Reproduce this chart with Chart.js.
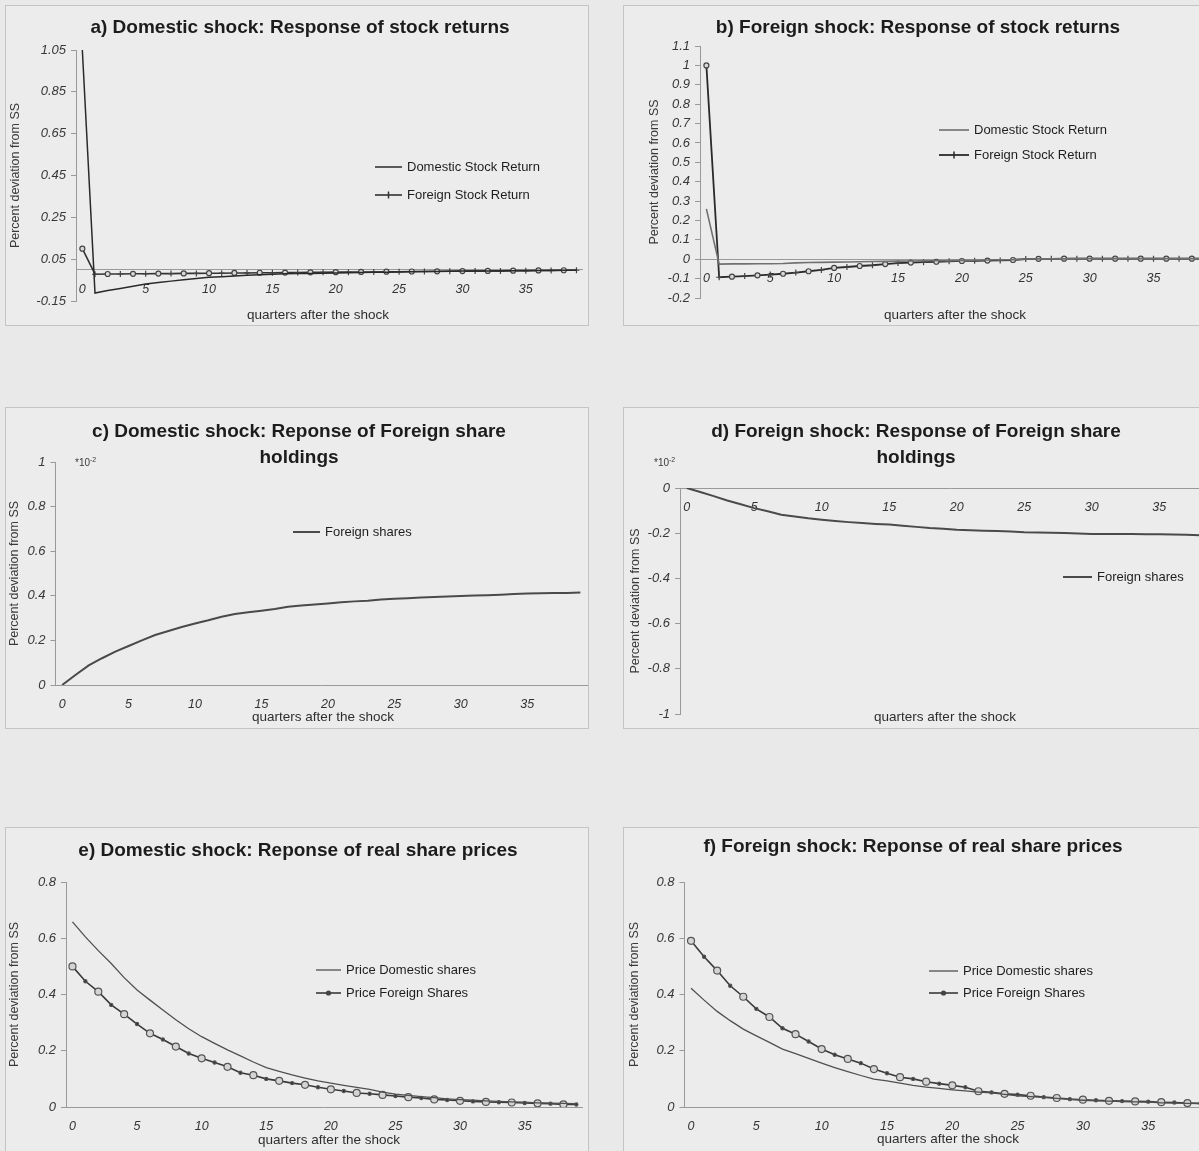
<!DOCTYPE html>
<html>
<head>
<meta charset="utf-8">
<script src="https://cdn.jsdelivr.net/npm/chart.js@4.4.1/dist/chart.umd.min.js"></script>
<style>
  html, body { margin: 0; padding: 0; background: #e9e9e9; }
  body { position: relative; width: 1199px; height: 1151px; overflow: hidden; }
  .panel { position: absolute; box-sizing: border-box; border: 1px solid #c4c4c4; background: #ececec; overflow: hidden; }
  .panel canvas { position: absolute; left: 0; top: 0; }
</style>
</head>
<body>
<div class="panel" id="pa"><canvas id="ga"></canvas></div>
<div class="panel" id="pb"><canvas id="gb"></canvas></div>
<div class="panel" id="pc"><canvas id="gc"></canvas></div>
<div class="panel" id="pd"><canvas id="gd"></canvas></div>
<div class="panel" id="pe"><canvas id="ge"></canvas></div>
<div class="panel" id="pf"><canvas id="gf"></canvas></div>
<script>
// trimestres despues del shock (categorias)
const TRIMESTRES = [0, 1, 2, 3, 4, 5, 6, 7, 8, 9, 10, 11, 12, 13, 14, 15, 16, 17, 18, 19,
  20, 21, 22, 23, 24, 25, 26, 27, 28, 29, 30, 31, 32, 33, 34, 35, 36, 37, 38, 39];
const TICKS_X = [0, 5, 10, 15, 20, 25, 30, 35];

const TICKS_A = [-0.15, 0.05, 0.25, 0.45, 0.65, 0.85, 1.05];
const TICKS_B = [-0.2, -0.1, 0, 0.1, 0.2, 0.3, 0.4, 0.5, 0.6, 0.7, 0.8, 0.9, 1, 1.1];
const TICKS_C = [0, 0.2, 0.4, 0.6, 0.8, 1];
const TICKS_D = [-1, -0.8, -0.6, -0.4, -0.2, 0];
const TICKS_EF = [0, 0.2, 0.4, 0.6, 0.8];

const EJE_X = "quarters after the shock";
const EJE_Y = "Percent deviation from SS";

// a) shock domestico: retornos
const A_DOM = [1.05, -0.112, -0.1, -0.09, -0.079, -0.069, -0.062, -0.055, -0.048, -0.042,
  -0.037, -0.034, -0.03, -0.027, -0.024, -0.022, -0.02, -0.019, -0.018, -0.017,
  -0.016, -0.015, -0.014, -0.013, -0.012, -0.011, -0.01, -0.009, -0.009, -0.008,
  -0.007, -0.007, -0.006, -0.006, -0.005, -0.005, -0.004, -0.004, -0.003, -0.003];
const A_FOR = [0.1, -0.022, -0.021, -0.021, -0.02, -0.02, -0.019, -0.019, -0.018, -0.018,
  -0.017, -0.017, -0.016, -0.016, -0.015, -0.015, -0.014, -0.014, -0.013, -0.013,
  -0.012, -0.012, -0.011, -0.011, -0.01, -0.01, -0.009, -0.009, -0.008, -0.008,
  -0.007, -0.007, -0.006, -0.006, -0.005, -0.005, -0.004, -0.004, -0.003, -0.003];

// b) shock extranjero: retornos
const B_DOM = [0.26, -0.025, -0.024, -0.024, -0.023, -0.023, -0.022, -0.019, -0.017, -0.016,
  -0.015, -0.014, -0.013, -0.012, -0.011, -0.01, -0.009, -0.008, -0.008, -0.007,
  -0.006, -0.005, -0.004, -0.003, -0.002, 0.001, 0.002, 0.002, 0.002, 0.003,
  0.003, 0.003, 0.003, 0.003, 0.003, 0.003, 0.003, 0.003, 0.003, 0.003];
const B_FOR = [1.0, -0.093, -0.09, -0.087, -0.083, -0.079, -0.075, -0.069, -0.062, -0.055,
  -0.045, -0.04, -0.035, -0.031, -0.025, -0.02, -0.017, -0.015, -0.013, -0.011,
  -0.009, -0.008, -0.007, -0.006, -0.004, 0.001, 0.002, 0.002, 0.003, 0.003,
  0.003, 0.003, 0.003, 0.003, 0.003, 0.003, 0.003, 0.003, 0.003, 0.003];

// c) y d) tenencias de acciones extranjeras (*10^-2)
const C_FOR = [0, 0.045, 0.088, 0.12, 0.15, 0.175, 0.2, 0.224, 0.242, 0.26,
  0.276, 0.29, 0.306, 0.318, 0.326, 0.333, 0.341, 0.351, 0.356, 0.361,
  0.366, 0.371, 0.375, 0.378, 0.383, 0.387, 0.389, 0.392, 0.395, 0.397,
  0.399, 0.401, 0.403, 0.405, 0.408, 0.41, 0.411, 0.412, 0.413, 0.415];
const D_FOR = [0, -0.018, -0.036, -0.055, -0.072, -0.089, -0.103, -0.118, -0.126, -0.134,
  -0.14, -0.146, -0.151, -0.155, -0.159, -0.162, -0.167, -0.172, -0.177, -0.18,
  -0.185, -0.187, -0.189, -0.19, -0.193, -0.196, -0.197, -0.198, -0.199, -0.201,
  -0.204, -0.204, -0.204, -0.204, -0.205, -0.205, -0.206, -0.207, -0.209, -0.21];

// e) y f) precios reales de las acciones
const E_DOM = [0.658, 0.605, 0.556, 0.51, 0.46, 0.416, 0.38, 0.345, 0.31, 0.278,
  0.25, 0.226, 0.203, 0.182, 0.16, 0.14, 0.127, 0.114, 0.103, 0.093,
  0.085, 0.077, 0.07, 0.063, 0.053, 0.046, 0.041, 0.037, 0.033, 0.029,
  0.026, 0.024, 0.022, 0.02, 0.018, 0.017, 0.015, 0.014, 0.013, 0.012];
const E_FOR = [0.5, 0.447, 0.41, 0.363, 0.33, 0.295, 0.262, 0.24, 0.215, 0.19,
  0.173, 0.158, 0.143, 0.122, 0.113, 0.1, 0.093, 0.085, 0.079, 0.07,
  0.063, 0.057, 0.05, 0.047, 0.043, 0.039, 0.035, 0.032, 0.027, 0.025,
  0.022, 0.02, 0.018, 0.017, 0.016, 0.014, 0.013, 0.012, 0.009, 0.009];
const F_DOM = [0.422, 0.38, 0.34, 0.307, 0.277, 0.253, 0.23, 0.206, 0.19, 0.173,
  0.156, 0.14, 0.126, 0.112, 0.099, 0.093, 0.085, 0.077, 0.071, 0.066,
  0.061, 0.057, 0.053, 0.05, 0.045, 0.04, 0.037, 0.034, 0.031, 0.027,
  0.024, 0.022, 0.021, 0.019, 0.018, 0.017, 0.015, 0.014, 0.013, 0.012];
const F_FOR = [0.591, 0.534, 0.485, 0.431, 0.392, 0.349, 0.32, 0.28, 0.259, 0.233,
  0.206, 0.186, 0.171, 0.156, 0.135, 0.12, 0.106, 0.1, 0.09, 0.083,
  0.077, 0.07, 0.056, 0.052, 0.047, 0.044, 0.04, 0.035, 0.032, 0.028,
  0.026, 0.024, 0.022, 0.021, 0.02, 0.019, 0.017, 0.016, 0.014, 0.013];

const FUENTE = '"Liberation Sans", Arial, sans-serif';

// marcadores estilo Excel escaneado
const marcaCruz = {
  pointStyle: (c) => (c.dataIndex % 2 === 0 ? "circle" : "cross"),
  pointRadius: (c) => (c.dataIndex % 2 === 0 ? 2.5 : 3),
  pointBorderWidth: 1.2,
  pointBackgroundColor: "#d8d8d8",
  pointBorderColor: "#444",
};
const marcaCirculo = {
  pointStyle: "circle",
  pointRadius: (c) => (c.dataIndex % 2 === 0 ? 3.5 : 1.6),
  pointBorderWidth: 1.2,
  pointBackgroundColor: (c) => (c.dataIndex % 2 === 0 ? "#d4d4d4" : "#333"),
  pointBorderColor: "#555",
};

function linea(label, data, color, ancho, extra, marca) {
  return Object.assign({
    label: label,
    data: data,
    borderColor: color,
    borderWidth: ancho,
    pointRadius: 0,
    tension: 0,
    fill: false,
    marcaLeyenda: marca || null,
  }, extra || {});
}

// titulos, rotulo del eje x, nota de escala y leyenda
const pluginTextos = {
  id: "textos",
  afterDraw(chart, args, o) {
    const ctx = chart.ctx;
    const ox = o.origen[0], oy = o.origen[1];
    ctx.save();
    ctx.textAlign = "center";
    ctx.textBaseline = "middle";
    ctx.fillStyle = "#1c1c1c";
    ctx.font = "bold 19px " + FUENTE;
    o.titulo.forEach((t, i) => ctx.fillText(t, o.tituloX - ox, o.tituloY - oy + i * 26));

    ctx.fillStyle = "#2e2e2e";
    ctx.font = "13.5px " + FUENTE;
    ctx.fillText(EJE_X, o.rotulo[0] - ox, o.rotulo[1] - oy);

    if (o.nota) {
      ctx.textAlign = "left";
      ctx.fillStyle = "#3a3a3a";
      ctx.font = "10px " + FUENTE;
      const nx = o.nota[0] - ox, ny = o.nota[1] - oy;
      ctx.fillText("*10", nx, ny);
      const w = ctx.measureText("*10").width;
      ctx.font = "7px " + FUENTE;
      ctx.fillText("-2", nx + w, ny - 3);
    }

    const ley = o.leyenda;
    chart.data.datasets.forEach((ds, i) => {
      const x = ley.x - ox, y = ley.y - oy + i * ley.dy;
      ctx.strokeStyle = ds.borderColor;
      ctx.lineWidth = ds.borderWidth;
      ctx.beginPath();
      ctx.moveTo(x, y);
      ctx.lineTo(x + ley.largo, y);
      ctx.stroke();
      const mx = x + ley.largo / 2;
      if (ds.marcaLeyenda === "cruz") {
        ctx.lineWidth = 1.5;
        ctx.beginPath();
        ctx.moveTo(mx, y - 3.5);
        ctx.lineTo(mx, y + 3.5);
        ctx.stroke();
      } else if (ds.marcaLeyenda === "punto") {
        ctx.fillStyle = "#444";
        ctx.beginPath();
        ctx.arc(mx, y, 2.6, 0, Math.PI * 2);
        ctx.fill();
      }
      ctx.textAlign = "left";
      ctx.fillStyle = "#1e1e1e";
      ctx.font = "13px " + FUENTE;
      ctx.fillText(ds.label, x + ley.largo + 5, y);
    });
    ctx.restore();
  },
};

function graficar(panelId, canvasId, p) {
  const cont = document.getElementById(panelId);
  cont.style.left = p.caja[0] + "px";
  cont.style.top = p.caja[1] + "px";
  cont.style.width = p.caja[2] + "px";
  cont.style.height = p.caja[3] + "px";
  const canvas = document.getElementById(canvasId);
  const w = p.caja[2] - 2, h = p.caja[3] - 2;
  canvas.width = w;
  canvas.height = h;
  const ox = p.caja[0] + 1, oy = p.caja[1] + 1;
  const ejeIzq = p.tituloEjeX - 7.5 - ox;
  const anchoEje = p.area[0] - ox - ejeIzq;

  new Chart(canvas, {
    type: "line",
    data: { labels: TRIMESTRES, datasets: p.series },
    options: {
      responsive: false,
      animation: false,
      events: [],
      layout: {
        padding: {
          left: ejeIzq,
          top: p.area[2] - oy,
          right: w - (p.area[1] - ox),
          bottom: h - (p.area[3] - oy),
        },
      },
      plugins: {
        legend: { display: false },
        tooltip: { enabled: false },
        textos: {
          origen: [ox, oy],
          titulo: p.titulo,
          tituloX: p.tituloX,
          tituloY: p.tituloY,
          rotulo: p.rotulo,
          nota: p.nota,
          leyenda: p.leyenda,
        },
      },
      scales: {
        x: {
          type: "linear",
          min: -0.5,
          max: 39.5,
          position: { y: 0 },
          afterBuildTicks: (s) => { s.ticks = TICKS_X.map((v) => ({ value: v })); },
          grid: { display: true, drawOnChartArea: false, drawTicks: false },
          border: { display: true, color: "#999", width: 1 },
          ticks: {
            autoSkip: false,
            maxRotation: 0,
            padding: 12,
            color: "#333",
            font: { family: FUENTE, size: 12.5, style: "italic" },
            callback: (v) => String(v),
          },
        },
        y: {
          type: "linear",
          min: p.ticksY[0],
          max: p.ticksY[p.ticksY.length - 1],
          afterBuildTicks: (s) => { s.ticks = p.ticksY.map((v) => ({ value: v })); },
          afterFit: (s) => { s.width = anchoEje; },
          grid: { drawOnChartArea: false, drawTicks: true, tickLength: 5, color: "#999" },
          border: { display: true, color: "#999", width: 1 },
          ticks: {
            padding: 5,
            color: "#383838",
            font: { family: FUENTE, size: 13, style: "italic" },
            callback: (v) => String(Math.round(v * 100) / 100),
          },
          title: {
            display: true,
            text: EJE_Y,
            padding: 0,
            color: "#3a3a3a",
            font: { family: FUENTE, size: 12.5 },
          },
        },
      },
    },
    plugins: [pluginTextos],
  });
}

graficar("pa", "ga", {
  caja: [5, 5, 584, 321],
  area: [76, 583, 50, 301],
  tituloEjeX: 16,
  ticksY: TICKS_A,
  titulo: ["a) Domestic shock: Response of stock returns"],
  tituloX: 300, tituloY: 28,
  rotulo: [318, 315],
  leyenda: { x: 375, y: 167, dy: 28, largo: 27 },
  series: [
    linea("Domestic Stock Return", A_DOM, "#2a2a2a", 1.5),
    linea("Foreign Stock Return", A_FOR, "#333", 1.6, marcaCruz, "cruz"),
  ],
});

graficar("pb", "gb", {
  caja: [623, 5, 600, 321],
  area: [700, 1211, 46, 298],
  tituloEjeX: 655,
  ticksY: TICKS_B,
  titulo: ["b) Foreign shock: Response of stock returns"],
  tituloX: 918, tituloY: 28,
  rotulo: [955, 315],
  leyenda: { x: 939, y: 130, dy: 25, largo: 30 },
  series: [
    linea("Domestic Stock Return", B_DOM, "#707070", 1.6),
    linea("Foreign Stock Return", B_FOR, "#2a2a2a", 1.8, marcaCruz, "cruz"),
  ],
});

graficar("pc", "gc", {
  caja: [5, 407, 584, 322],
  area: [55.5, 587, 462, 685],
  tituloEjeX: 15,
  ticksY: TICKS_C,
  titulo: ["c) Domestic shock: Reponse of Foreign share", "holdings"],
  tituloX: 299, tituloY: 432,
  rotulo: [323, 717],
  nota: [75, 463],
  leyenda: { x: 293, y: 532, dy: 0, largo: 27 },
  series: [linea("Foreign shares", C_FOR, "#4a4a4a", 2)],
});

graficar("pd", "gd", {
  caja: [623, 407, 600, 322],
  area: [680, 1220, 488, 714],
  tituloEjeX: 636,
  ticksY: TICKS_D,
  titulo: ["d) Foreign shock: Response of Foreign share", "holdings"],
  tituloX: 916, tituloY: 432,
  rotulo: [945, 717],
  nota: [654, 463],
  leyenda: { x: 1063, y: 577, dy: 0, largo: 29 },
  series: [linea("Foreign shares", D_FOR, "#4a4a4a", 2)],
});

graficar("pe", "ge", {
  caja: [5, 827, 584, 340],
  area: [66, 586, 882, 1107],
  tituloEjeX: 15,
  ticksY: TICKS_EF,
  titulo: ["e) Domestic shock: Reponse of real share prices"],
  tituloX: 298, tituloY: 851,
  rotulo: [329, 1140],
  leyenda: { x: 316, y: 970, dy: 23, largo: 25 },
  series: [
    linea("Price Domestic shares", E_DOM, "#505050", 1.3),
    linea("Price Foreign Shares", E_FOR, "#3a3a3a", 1.6, marcaCirculo, "punto"),
  ],
});

graficar("pf", "gf", {
  caja: [623, 827, 600, 340],
  area: [684.5, 1207, 882, 1107],
  tituloEjeX: 635,
  ticksY: TICKS_EF,
  titulo: ["f) Foreign shock: Reponse of real share prices"],
  tituloX: 913, tituloY: 847,
  rotulo: [948, 1139],
  leyenda: { x: 929, y: 971, dy: 22, largo: 29 },
  series: [
    linea("Price Domestic shares", F_DOM, "#505050", 1.3),
    linea("Price Foreign Shares", F_FOR, "#3a3a3a", 1.6, marcaCirculo, "punto"),
  ],
});
</script>
</body>
</html>
